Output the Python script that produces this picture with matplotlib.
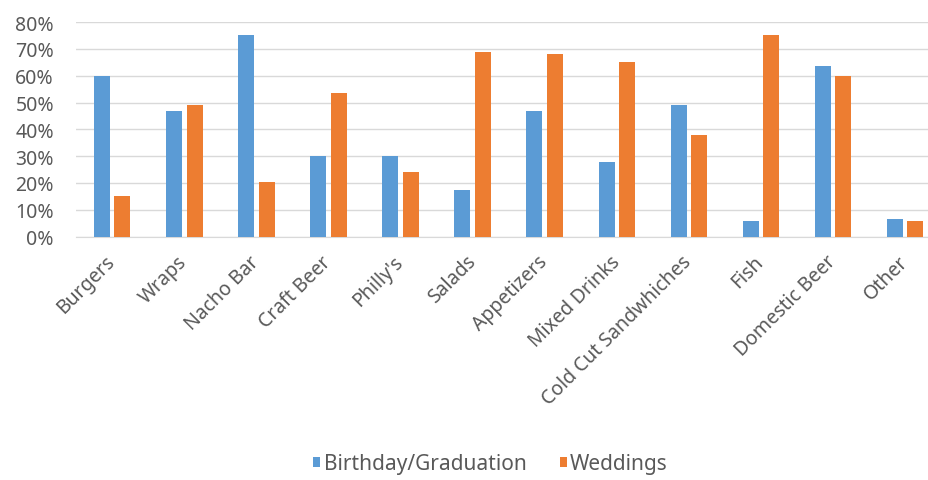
import numpy as np
import matplotlib.pyplot as plt
import matplotlib.transforms as mtransforms
from matplotlib.ticker import PercentFormatter

plt.rcParams['font.family'] = ['Noto Sans', 'DejaVu Sans']

# Menu preferences by event type
categories = ["Burgers", "Wraps", "Nacho Bar", "Craft Beer", "Philly's", "Salads",
              "Appetizers", "Mixed Drinks", "Cold Cut Sandwhiches", "Fish",
              "Domestic Beer", "Other"]
birthday = [60, 46.7, 75, 30.1, 30.1, 17.2, 46.7, 27.8, 49.1, 5.7, 63.6, 6.5]
weddings = [15, 49, 20.3, 53.6, 24, 69, 68, 65, 37.8, 75, 59.8, 5.7]

BLUE = "#5B9BD5"
ORANGE = "#ED7D31"
TEXT = "#595959"

fig = plt.figure(figsize=(9.29, 4.81), dpi=100)
# plot area runs a little past the right edge of the canvas
ax = fig.add_axes([0.082, 0.506, 0.931, 0.446])

x = np.arange(len(categories))
w = 0.222
off = 0.142
ax.bar(x - off, birthday, w, color=BLUE, label="Birthday/Graduation", zorder=3)
ax.bar(x + off, weddings, w, color=ORANGE, label="Weddings", zorder=3)

ax.set_xlim(-0.5, len(categories) - 0.5)
ax.set_ylim(0, 80)
ax.set_yticks(np.arange(0, 81, 10))
ax.yaxis.set_major_formatter(PercentFormatter(decimals=0))
ax.grid(axis="y", color="#d9d9d9", linewidth=1, zorder=0)

for s in ["top", "right", "left"]:
    ax.spines[s].set_visible(False)
ax.spines["bottom"].set_color("#d9d9d9")
ax.tick_params(axis="both", length=0, labelsize=14, colors=TEXT)
ax.tick_params(axis="y", pad=16)

ax.set_xticks(x)
ax.set_xticklabels(categories, rotation=45, ha="right", va="center",
                   rotation_mode="anchor")
shift = mtransforms.ScaledTranslation(0, -0.17, fig.dpi_scale_trans)
for lbl in ax.get_xticklabels():
    lbl.set_transform(lbl.get_transform() + shift)

fig.legend(loc="center", bbox_to_anchor=(0.528, 0.034), ncol=2, frameon=False,
           fontsize=15, labelcolor=TEXT, handlelength=0.35, handleheight=0.35,
           handletextpad=0.15, columnspacing=1.6)

fig.savefig("out.png", dpi=100)
